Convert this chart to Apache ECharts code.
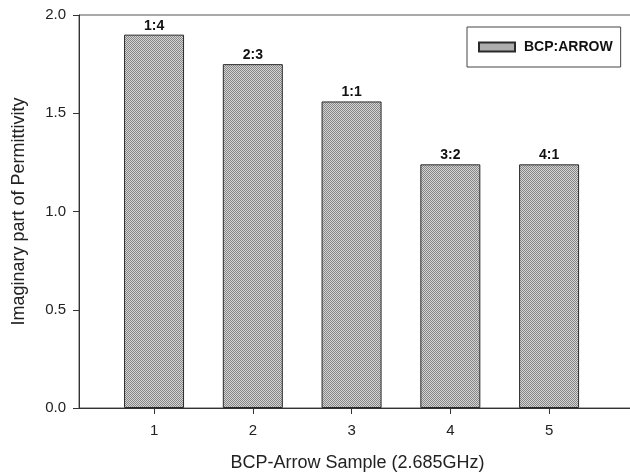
<!DOCTYPE html>
<html>
<head>
<meta charset="utf-8">
<script src="https://cdn.jsdelivr.net/npm/echarts@6/dist/echarts.min.js"></script>
<style>
  html, body { margin: 0; padding: 0; background: #fff; }
  #chart { width: 630px; height: 474px; }
</style>
</head>
<body>
<div id="chart"></div>
<script>
// Sample numbers on the x axis, BCP:ARROW mixing ratios and imaginary permittivity
const samples = [1, 2, 3, 4, 5];
const ratios = ['1:4', '2:3', '1:1', '3:2', '4:1'];
const permittivity = [1.90, 1.75, 1.56, 1.24, 1.24];
const yTicks = [0, 0.5, 1.0, 1.5, 2.0];

// Small checkered tile used as a dotted grey fill for the bars
function makeTile() {
  const c = document.createElement('canvas');
  c.width = 4; c.height = 4;
  const g = c.getContext('2d');
  g.fillStyle = '#d4d4d4';
  g.fillRect(0, 0, 4, 4);
  g.fillStyle = '#868686';
  for (let y = 0; y < 4; y++) {
    for (let x = 0; x < 4; x++) {
      if ((x + y) % 2 === 0) g.fillRect(x, y, 1, 1);
    }
  }
  return c;
}
const fill = { image: makeTile(), repeat: 'repeat' };

const chart = echarts.init(document.getElementById('chart'), null, { renderer: 'canvas' });

const font = '"Liberation Sans", Arial, sans-serif';

chart.setOption({
  animation: false,
  backgroundColor: '#ffffff',
  textStyle: { fontFamily: font },
  grid: {
    left: 79, top: 15, width: 557, height: 393,
    containLabel: false, outerBoundsMode: 'none',
    show: true, borderColor: '#555555', borderWidth: 1, backgroundColor: 'transparent'
  },
  legend: {
    show: true,
    left: 467, top: 27,
    padding: [13, 8, 13, 11],
    borderColor: '#444444', borderWidth: 1,
    itemWidth: 36, itemHeight: 9, itemGap: 0,
    textStyle: { fontFamily: font, fontWeight: 'bold', fontSize: 14, color: '#111', padding: [0, 0, 0, 4] },
    data: [{ name: 'BCP:ARROW', icon: 'rect' }]
  },
  xAxis: {
    type: 'value',
    min: 0.24, max: 5.88,
    name: 'BCP-Arrow Sample (2.685GHz)',
    nameLocation: 'middle', nameGap: 46,
    nameTextStyle: { fontFamily: font, fontSize: 18, color: '#222' },
    splitLine: { show: false },
    axisLine: { show: true, lineStyle: { color: '#333', width: 1 } },
    axisTick: { show: true, inside: false, length: 6, customValues: samples, lineStyle: { color: '#333' } },
    axisLabel: { customValues: samples, margin: 15, fontSize: 15, color: '#222', fontFamily: font }
  },
  yAxis: {
    type: 'value',
    min: 0, max: 2, interval: 0.5,
    name: 'Imaginary part of Permittivity',
    nameLocation: 'middle', nameGap: 51, nameRotate: 90,
    nameTextStyle: { fontFamily: font, fontSize: 18, color: '#222' },
    splitLine: { show: false },
    axisLine: { show: true, lineStyle: { color: '#333', width: 1 } },
    axisTick: { show: true, inside: false, length: 6, lineStyle: { color: '#333' } },
    axisLabel: {
      margin: 13, fontSize: 15, color: '#222', fontFamily: font,
      formatter: v => yTicks.includes(v) ? v.toFixed(1) : ''
    }
  },
  series: [{
    name: 'BCP:ARROW',
    type: 'bar',
    barWidth: 60,
    data: samples.map((s, i) => ({ value: [s, permittivity[i]], ratio: ratios[i] })),
    itemStyle: { color: fill, borderColor: '#2a2a2a', borderWidth: 1 },
    label: {
      show: true, position: 'top', distance: 2,
      fontFamily: font, fontWeight: 'bold', fontSize: 14, color: '#111',
      formatter: p => ratios[p.dataIndex]
    }
  }]
});
</script>
</body>
</html>
